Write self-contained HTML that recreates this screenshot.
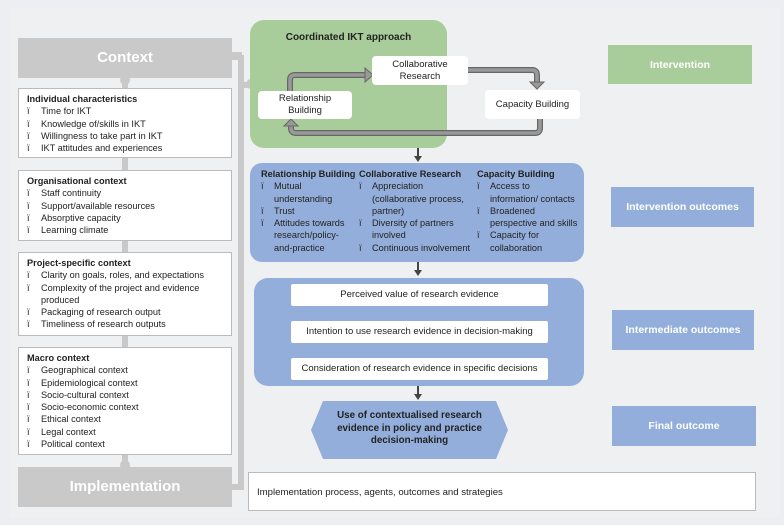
<!DOCTYPE html>
<html><head><meta charset="utf-8"><style>
*{box-sizing:border-box;margin:0;padding:0}
body{width:784px;height:525px;background:#eceef1;font-family:"Liberation Sans",sans-serif;position:relative;overflow:hidden;color:#222}
.a{position:absolute}
.lbox{position:absolute;left:18px;width:214px;background:#fff;border:1px solid #bbb;font-size:9.2px;line-height:12.3px;padding:4px 8px}
.lbox b{display:block}
.li{padding-left:14px;position:relative}
.li:before{content:"ï";position:absolute;left:0}
.gray{position:absolute;background:#c9c9c9;color:#fff;font-weight:bold;text-align:center}
.tag{position:absolute;color:#fff;font-weight:bold;font-size:10.5px;display:flex;align-items:center;justify-content:center}
.wb{position:absolute;background:#fff;border-radius:4px;font-size:9.5px;text-align:center;display:flex;align-items:center;justify-content:center;line-height:12px}
.col{position:absolute;top:168px;font-size:9.2px;line-height:12.3px}
.col b{display:block;white-space:nowrap}
.col .li{padding-left:13px}
.nw .li{white-space:nowrap}
.arrow{position:absolute;width:0;height:0;border-left:4px solid transparent;border-right:4px solid transparent;border-top:6px solid #444}
.stem{position:absolute;width:1.5px;background:#444}
</style></head><body>
<div class="a" style="left:10px;top:8px;width:770px;height:510px;background:#eef0f2"></div>
<div class="a" style="left:122px;top:78px;width:6px;height:390px;background:#c9c9c9"></div>
<div class="a" style="left:238px;top:55px;width:6px;height:435px;background:#c9c9c9"></div>
<div class="a" style="left:232px;top:52px;width:10px;height:8px;background:#c9c9c9"></div>
<div class="a" style="left:242px;top:82px;width:10px;height:6px;background:#c9c9c9"></div>
<div class="a" style="left:246px;top:79px;width:10px;height:10px;border-radius:50%;background:#c9c9c9"></div>
<div class="a" style="left:120px;top:75px;width:10px;height:10px;border-radius:50%;background:#c9c9c9"></div>
<div class="a" style="left:120px;top:460px;width:10px;height:10px;border-radius:50%;background:#c9c9c9"></div>
<div class="a" style="left:232px;top:484px;width:12px;height:6px;background:#c9c9c9"></div>

<div class="gray" style="left:18px;top:38px;width:214px;height:40px;font-size:15px;line-height:40px">Context</div>
<div class="gray" style="left:18px;top:467px;width:214px;height:40px;font-size:15px;line-height:40px">Implementation</div>

<div class="lbox" style="top:88px;height:70px"><b>Individual characteristics</b><div class="li">Time for IKT</div><div class="li">Knowledge of/skills in IKT</div><div class="li">Willingness to take part in IKT</div><div class="li">IKT attitudes and experiences</div></div>
<div class="lbox" style="top:170px;height:71px"><b>Organisational context</b><div class="li">Staff continuity</div><div class="li">Support/available resources</div><div class="li">Absorptive capacity</div><div class="li">Learning climate</div></div>
<div class="lbox" style="top:252px;height:84px"><b>Project-specific context</b><div class="li">Clarity on goals, roles, and expectations</div><div class="li">Complexity of the project and evidence produced</div><div class="li">Packaging of research output</div><div class="li">Timeliness of research outputs</div></div>
<div class="lbox" style="top:347px;height:108px"><b>Macro context</b><div class="li">Geographical context</div><div class="li">Epidemiological context</div><div class="li">Socio-cultural context</div><div class="li">Socio-economic context</div><div class="li">Ethical context</div><div class="li">Legal context</div><div class="li">Political context</div></div>

<div class="a" style="left:250px;top:20px;width:197px;height:128px;background:#a9cd9a;border-radius:14px"></div>
<div class="a" style="left:250px;top:32px;width:197px;text-align:center;font-weight:bold;font-size:10px">Coordinated IKT approach</div>
<svg class="a" style="left:250px;top:20px" width="340" height="130">
<g fill="none" stroke="#666" stroke-width="6" stroke-linejoin="round"><path d="M40 72 V60 Q40 55 45 55 H115"/><path d="M218 50 H282 Q287 50 287 55 V62"/><path d="M290 99 V108 Q290 113 285 113 H46 Q41 113 41 108 V106"/></g>
<g fill="none" stroke="#999" stroke-width="3.5" stroke-linejoin="round"><path d="M40 72 V60 Q40 55 45 55 H115"/><path d="M218 50 H282 Q287 50 287 55 V62"/><path d="M290 99 V108 Q290 113 285 113 H46 Q41 113 41 108 V106"/></g>
<polygon points="115,48 123,55 115,62" fill="#999" stroke="#666"/>
<polygon points="280,62 294,62 287,69" fill="#999" stroke="#666"/>
<polygon points="34,106 48,106 41,99" fill="#999" stroke="#666"/>
</svg>
<div class="wb" style="left:372px;top:56px;width:96px;height:29px">Collaborative<br>Research</div>
<div class="wb" style="left:258px;top:91px;width:94px;height:28px">Relationship<br>Building</div>
<div class="wb" style="left:485px;top:90px;width:95px;height:29px">Capacity Building</div>

<div class="tag" style="left:608px;top:45px;width:144px;height:39px;background:#a9cd9a">Intervention</div>
<div class="tag" style="left:611px;top:187px;width:143px;height:40px;background:#93aedb">Intervention outcomes</div>
<div class="tag" style="left:612px;top:310px;width:142px;height:40px;background:#93aedb">Intermediate outcomes</div>
<div class="tag" style="left:612px;top:406px;width:144px;height:40px;background:#93aedb">Final outcome</div>

<div class="stem" style="left:417px;top:148px;height:9px"></div><div class="arrow" style="left:414px;top:156px"></div>
<div class="stem" style="left:417px;top:262px;height:9px"></div><div class="arrow" style="left:414px;top:270px"></div>
<div class="stem" style="left:417px;top:306px;height:9px"></div><div class="arrow" style="left:414px;top:314px"></div>
<div class="stem" style="left:417px;top:343px;height:9px"></div><div class="arrow" style="left:414px;top:351px"></div>
<div class="stem" style="left:417px;top:386px;height:9px"></div><div class="arrow" style="left:414px;top:394px"></div>

<div class="a" style="left:250px;top:163px;width:334px;height:99px;background:#93aedb;border-radius:12px"></div>
<div class="col nw" style="left:261px;width:96px"><b>Relationship Building</b><div class="li">Mutual<br>understanding</div><div class="li">Trust</div><div class="li">Attitudes towards<br>research/policy-<br>and-practice</div></div>
<div class="col nw" style="left:359px;width:118px"><b>Collaborative Research</b><div class="li">Appreciation<br>(collaborative process,<br>partner)</div><div class="li">Diversity of partners<br>involved</div><div class="li">Continuous involvement</div></div>
<div class="col nw" style="left:477px;width:109px"><b>Capacity Building</b><div class="li">Access to<br>information/ contacts</div><div class="li">Broadened<br>perspective and skills</div><div class="li">Capacity for<br>collaboration</div></div>

<div class="a" style="left:254px;top:278px;width:330px;height:108px;background:#93aedb;border-radius:14px"></div>
<div class="wb" style="left:291px;top:284px;width:257px;height:22px;border-radius:2px">Perceived value of research evidence</div>
<div class="wb" style="left:291px;top:321px;width:257px;height:22px;border-radius:2px">Intention to use research evidence in decision-making</div>
<div class="wb" style="left:291px;top:358px;width:257px;height:22px;border-radius:2px">Consideration of research evidence in specific decisions</div>

<svg class="a" style="left:311px;top:401px" width="197" height="58"><polygon points="12,0 185,0 197,29 185,58 12,58 0,29" fill="#93aedb"/></svg>
<div class="a" style="left:311px;top:410px;width:197px;text-align:center;font-weight:bold;font-size:9.8px;line-height:12.5px">Use of contextualised research<br>evidence in policy and practice<br>decision-making</div>

<div class="a" style="left:248px;top:472px;width:508px;height:39px;background:#fff;border:1px solid #bbb;font-size:9.6px;line-height:39px;padding-left:8px">Implementation process, agents, outcomes and strategies</div>
</body></html>
